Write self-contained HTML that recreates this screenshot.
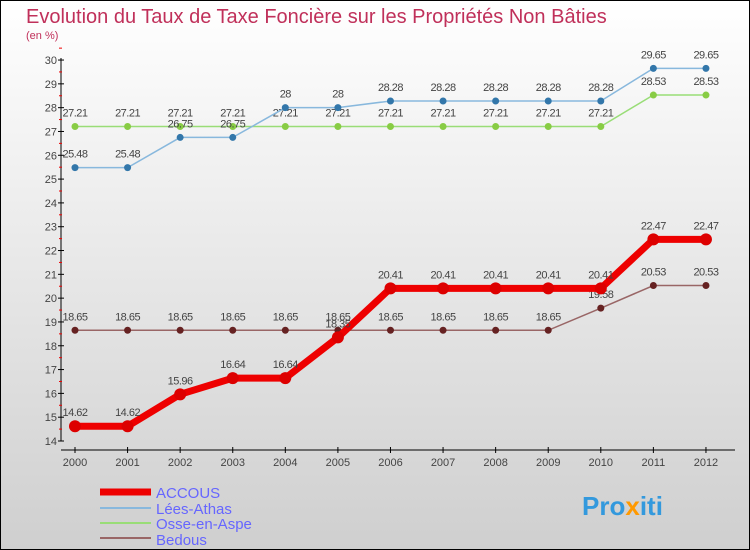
<!DOCTYPE html>
<html><head><meta charset="utf-8"><style>
body{margin:0;width:750px;height:550px;overflow:hidden;font-family:"Liberation Sans",sans-serif}
#c{position:absolute;left:0;top:0;width:748px;height:548px;border:1px solid #000;background:linear-gradient(#ffffff,#cfcfcf)}
</style></head><body>
<div id="c"></div>
<svg id="s" width="750" height="550" style="position:absolute;left:0;top:0">
<text x="26" y="23" font-size="20" fill="#c0305a">Evolution du Taux de Taxe Foncière sur les Propriétés Non Bâties</text>
<text x="26" y="39" font-size="11" fill="#c0305a">(en %)</text>
<g id="axes"></g><g id="series"></g>
<g>
<line x1="100" y1="492" x2="151" y2="492" stroke="#ee0000" stroke-width="7"/>
<text x="156" y="498" font-size="15" fill="#6666ff">ACCOUS</text>
<line x1="100" y1="508" x2="151" y2="508" stroke="#88b8dd" stroke-width="2"/>
<text x="156" y="514" font-size="15" fill="#6666ff">Lées-Athas</text>
<line x1="100" y1="523" x2="151" y2="523" stroke="#99dd77" stroke-width="2"/>
<text x="156" y="529" font-size="15" fill="#6666ff">Osse-en-Aspe</text>
<line x1="100" y1="538" x2="151" y2="538" stroke="#996666" stroke-width="2"/>
<text x="156" y="545" font-size="15" fill="#6666ff">Bedous</text>
</g>
<text x="582" y="515" font-size="26" font-weight="bold" fill="#3399dd">Pro<tspan fill="#ff9900">x</tspan>iti</text>
</svg>
<script>
const years=[2000,2001,2002,2003,2004,2005,2006,2007,2008,2009,2010,2011,2012];
const yTicks=[14,15,16,17,18,19,20,21,22,23,24,25,26,27,28,29,30];
const accous=[14.62,14.62,15.96,16.64,16.64,18.35,20.41,20.41,20.41,20.41,20.41,22.47,22.47];
const leesAthas=[25.48,25.48,26.75,26.75,28,28,28.28,28.28,28.28,28.28,28.28,29.65,29.65];
const osse=[27.21,27.21,27.21,27.21,27.21,27.21,27.21,27.21,27.21,27.21,27.21,28.53,28.53];
const bedous=[18.65,18.65,18.65,18.65,18.65,18.65,18.65,18.65,18.65,18.65,19.58,20.53,20.53];
const NS="http://www.w3.org/2000/svg";
const X=i=>75+i*52.58, Y=v=>441-(v-14)*23.81;
function mk(t,a,p){const e=document.createElementNS(NS,t);for(const k in a)e.setAttribute(k,a[k]);p.appendChild(e);return e;}
const ax=document.getElementById('axes');
let l=mk('line',{x1:61,y1:58,x2:61,y2:441,stroke:'#000'},ax);


l=mk('line',{x1:61,y1:450,x2:735,y2:450,stroke:'#000'},ax);


yTicks.forEach(v=>{
 mk('line',{x1:58,y1:Y(v),x2:64,y2:Y(v),stroke:'#000'},ax);
 mk('line',{x1:59,y1:Y(v+0.5),x2:62,y2:Y(v+0.5),stroke:'#e00'},ax);
 const t=mk('text',{x:57,y:Y(v)+4,'font-size':11,fill:'#444','text-anchor':'end'},ax);t.textContent=v;
 
 
});
years.forEach((y,i)=>{
 mk('line',{x1:X(i),y1:447,x2:X(i),y2:453,stroke:'#000'},ax);
 const t=mk('text',{x:X(i),y:466,'font-size':11,fill:'#444','text-anchor':'middle'},ax);t.textContent=y;
 
 
});
const sg=document.getElementById('series');
function series(d,name,col,w,r,dot){
 const g=mk('g',{},sg);
 
 
 const p=mk('polyline',{points:d.map((v,i)=>X(i)+','+Y(v)).join(' '),fill:'none',stroke:col,'stroke-width':w},g);
 
 
 d.forEach((v,i)=>{
  const c=mk('circle',{cx:X(i),cy:Y(v),r:r,fill:dot},g);
  
  
  const t=mk('text',{x:X(i),y:Y(v)-10,'font-size':11,fill:'#444','text-anchor':'middle','letter-spacing':'-0.5'},g);t.textContent=v;
  
  
 });
}
series(osse,'osse-en-aspe','#99dd77',1.5,3.5,'#88cc44');
series(leesAthas,'lees-athas','#88b8dd',1.5,3.5,'#3377aa');
series(bedous,'bedous','#996666',1.5,3.5,'#662222');
series(accous,'accous','#ee0000',7,6,'#dd0000');
</script>
</body></html>
